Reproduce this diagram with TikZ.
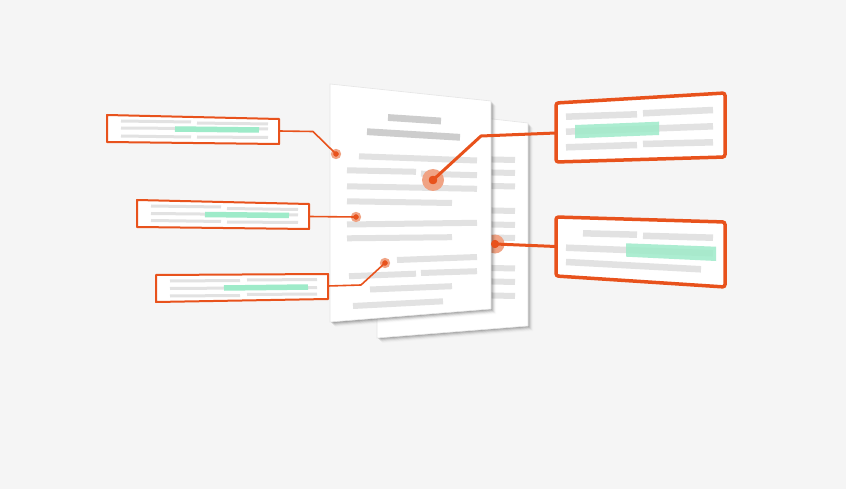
\documentclass[tikz,border=0pt]{standalone}
\usetikzlibrary{calc}
\definecolor{bgc}{HTML}{F5F5F5}
\definecolor{org}{HTML}{E8521C}
\definecolor{halo}{HTML}{F0A384}
\definecolor{barl}{HTML}{E2E2E2}
\definecolor{bard}{HTML}{CDCDCD}
\definecolor{grn}{HTML}{9EEBC9}
\begin{document}
\begin{tikzpicture}[x=1pt,y=-1pt,
  gbar/.style={line width=6pt, draw=barl},
  tbar/.style={line width=6.8pt, draw=bard},
  cbar/.style={line width=3pt, draw=barl},
  hlbar/.style={line width=5.5pt, draw=grn},
  rbar/.style={line width=6.5pt, draw=barl},
  pagefill/.style={fill=white, draw=black!10, line width=0.6pt},
  lbox/.style={draw=org, line width=2pt, fill=white, line join=round},
  rbox/.style={draw=org, line width=3.5pt, fill=white, rounded corners=2.5pt},
  lconn/.style={draw=org, line width=1.6pt, line join=round},
  rconn/.style={draw=org, line width=3pt, line join=round},
  halodot/.style={fill=halo},
  coredot/.style={fill=org}]
\fill[bgc] (0,0) rectangle (846,489);
\useasboundingbox (0,0) rectangle (846,489);

% ---------- back page ----------
\foreach \o/\a in {1/0.12,2/0.10,3/0.07,4/0.04,5/0.02}
  \fill[black,opacity=\a,shift={(\o,\o)}] (377,106) -- (528,123) -- (528,326) -- (377,338) -- cycle;
\path[pagefill] (377,106) -- (528,123) -- (528,326) -- (377,338) -- cycle;
\foreach \y in {160,173,186.5,211,225,238,268.5,282,296}
  \draw[gbar] (470,\y-1) -- (515,\y);
% dot on the back page
\coordinate (d5) at (495,244);
\fill[halodot] (d5) circle (9.5);
\fill[coredot] (d5) circle (4);

% ---------- front page ----------
\foreach \o/\a in {1/0.13,2/0.11,3/0.08,4/0.05,5/0.02}
  \fill[black,opacity=\a,shift={(\o,\o)}] (330,84) -- (491,101) -- (491,309) -- (330,322) -- cycle;
\path[pagefill] (330,84) -- (491,101) -- (491,309) -- (330,322) -- cycle;
\draw[tbar] (388,117.5) -- (441,121);
\draw[tbar] (367,131.7) -- (460,137.3);
\draw[gbar] (359,156.3) -- (477,160.5);
\draw[gbar] (347,170.3) -- (416,171.8);
\draw[gbar] (421,173.7) -- (477,175.2);
\draw[gbar] (347,186.3) -- (477,188.8);
\draw[gbar] (347,201.3) -- (452,203);
\draw[gbar] (347,224.5) -- (477,222.8);
\draw[gbar] (347,238.3) -- (452,237.2);
\draw[gbar] (397,260) -- (477,257);
\draw[gbar] (349,276.2) -- (416,273.7);
\draw[gbar] (421,273) -- (477,271.2);
\draw[gbar] (370,289.5) -- (452,286.2);
\draw[gbar] (353,306) -- (443,301.3);

% dots on the front page
\coordinate (d1) at (336,154);
\coordinate (d2) at (356,217);
\coordinate (d3) at (385,263);
\coordinate (d4) at (433,180);
\foreach \d in {d1,d2,d3}{
  \fill[halodot] (\d) circle (5.2);
  \fill[coredot] (\d) circle (2.6);
}
\fill[halodot] (d4) circle (11);
\fill[coredot] (d4) circle (4.2);

% ---------- left call-outs ----------
\path[lbox] (107,115) -- (279,119) -- (279,144) -- (107,142) -- cycle;
\draw[cbar] (121,121) -- (191,122);
\draw[cbar] (197,123) -- (268,124);
\draw[cbar] (121,128) -- (268,129);
\draw[hlbar] (175,129) -- (259,130);
\draw[cbar] (121,136) -- (191,137);
\draw[cbar] (197,137) -- (268,137.5);
\coordinate (b1) at (279,131);

\path[lbox] (137,200) -- (309,204) -- (309,229) -- (137,227) -- cycle;
\draw[cbar] (151,206) -- (221,207);
\draw[cbar] (227,208.5) -- (298,209.5);
\draw[cbar] (151,213.5) -- (298,215);
\draw[hlbar] (205,214.5) -- (289,215.5);
\draw[cbar] (151,220.5) -- (221,221.5);
\draw[cbar] (227,222) -- (298,222.5);
\coordinate (b2) at (309,216.5);

\path[lbox] (156,275) -- (328,274) -- (328,299) -- (156,302) -- cycle;
\draw[cbar] (170,281) -- (240,280.5);
\draw[cbar] (247,280) -- (317,279.5);
\draw[cbar] (170,288.5) -- (317,287.5);
\draw[hlbar] (224,288) -- (308,287);
\draw[cbar] (170,296) -- (240,295.5);
\draw[cbar] (247,294.5) -- (317,294);
\coordinate (b3) at (328,286);

% ---------- right call-outs ----------
\path[rbox] (556,103) -- (725,93) -- (725,157) -- (556,162) -- cycle;
\draw[rbar] (566,116.7) -- (637,114.3);
\draw[rbar] (643,113.3) -- (713,110);
\draw[rbar] (566,131.7) -- (713,126.3);
\fill[grn,opacity=0.85] (575,125) -- (659,121.7) -- (659,135) -- (575,138.3) -- cycle;
\draw[rbar] (566,147.3) -- (637,145);
\draw[rbar] (643,144) -- (713,142.3);
\coordinate (b4) at (556,133);

\path[rbox] (556,217) -- (725,222) -- (725,287) -- (556,276) -- cycle;
\draw[rbar] (583,233.3) -- (637,234.7);
\draw[rbar] (643,235.8) -- (713,237.7);
\draw[rbar] (566,247.7) -- (713,253.3);
\fill[grn,opacity=0.85] (626,243.3) -- (716,246.7) -- (716,261) -- (626,256.7) -- cycle;
\draw[rbar] (566,262) -- (701,269.3);
\coordinate (b5) at (556,246.5);

% ---------- connectors ----------
\coordinate (e1) at (313,131.5);
\coordinate (e3) at (361,285);
\coordinate (e4) at (481,136);
\draw[lconn] (b1) -- (e1) -- (d1);
\draw[lconn] (b2) -- (d2);
\draw[lconn] (b3) -- (e3) -- (d3);
\draw[rconn] (d4) -- (e4) -- (b4);
\draw[rconn] (d5) -- (b5);
% redraw dot cores over the connectors
\foreach \d in {d1,d2,d3}{ \fill[coredot] (\d) circle (2.6); }
\fill[coredot] (d4) circle (4.2);
\fill[coredot] (d5) circle (4);
\end{tikzpicture}
\end{document}
